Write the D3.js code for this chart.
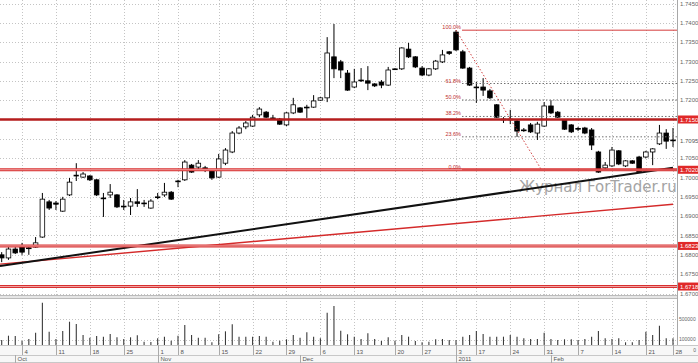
<!DOCTYPE html>
<html>
<head>
<meta charset="utf-8">
<script src="https://cdn.jsdelivr.net/npm/d3@7"></script>
<style>
body { margin: 0; background: #fff; }
svg { display: block; font-family: "Liberation Sans", Arial, sans-serif; }
</style>
</head>
<body>
<svg width="698" height="363"></svg>
<script>
"use strict"

// daily candles, Sep 29 2010 .. Feb 2011
var opens = [
    1.6800, 1.6792, 1.6815, 1.6823, 1.6818, 1.6820, 1.6846, 1.6937, 1.6934, 1.6913,
    1.6955, 1.7004, 1.7001, 1.7004, 1.6994, 1.6947, 1.6955, 1.6955, 1.6926, 1.6926,
    1.6937, 1.6934, 1.6921, 1.6949, 1.6955, 1.6962, 1.6990, 1.6994, 1.7032, 1.7027,
    1.7025, 1.7019, 1.7001, 1.7037, 1.7066, 1.7115, 1.7131, 1.7133, 1.7162, 1.7169,
    1.7154, 1.7151, 1.7136, 1.7167, 1.7180, 1.7180, 1.7182, 1.7200, 1.7206, 1.7312,
    1.7299, 1.7270, 1.7234, 1.7252, 1.7250, 1.7242, 1.7247, 1.7239, 1.7280, 1.7281,
    1.7332, 1.7312, 1.7283, 1.7265, 1.7281, 1.7299, 1.7325, 1.7376, 1.7325, 1.7283,
    1.7234, 1.7234, 1.7224, 1.7188, 1.7151, 1.7150, 1.7146, 1.7123, 1.7136, 1.7115,
    1.7133, 1.7185, 1.7169, 1.7149, 1.7136, 1.7127, 1.7128, 1.7123, 1.7066, 1.7025,
    1.7030, 1.7069, 1.7030, 1.7043, 1.7053, 1.7053, 1.7066, 1.7087, 1.7115, 1.7097
];
var highs = [
    1.6807, 1.6820, 1.6820, 1.6831, 1.6823, 1.6846, 1.6960, 1.6942, 1.6939, 1.6950,
    1.6999, 1.7037, 1.7014, 1.7006, 1.6996, 1.6960, 1.6983, 1.6957, 1.6942, 1.6947,
    1.6970, 1.6942, 1.6944, 1.6960, 1.6986, 1.6965, 1.6994, 1.7045, 1.7035, 1.7045,
    1.7030, 1.7022, 1.7061, 1.7076, 1.7120, 1.7133, 1.7146, 1.7162, 1.7182, 1.7172,
    1.7162, 1.7154, 1.7169, 1.7206, 1.7182, 1.7188, 1.7213, 1.7208, 1.7363, 1.7397,
    1.7304, 1.7278, 1.7281, 1.7283, 1.7288, 1.7244, 1.7252, 1.7286, 1.7283, 1.7337,
    1.7348, 1.7314, 1.7288, 1.7283, 1.7304, 1.7330, 1.7327, 1.7381, 1.7330, 1.7286,
    1.7247, 1.7257, 1.7229, 1.7190, 1.7156, 1.7175, 1.7149, 1.7128, 1.7141, 1.7144,
    1.7195, 1.7200, 1.7172, 1.7151, 1.7138, 1.7131, 1.7131, 1.7128, 1.7069, 1.7040,
    1.7079, 1.7071, 1.7045, 1.7045, 1.7056, 1.7069, 1.7076, 1.7136, 1.7125, 1.7128
];
var lows = [
    1.6781, 1.6787, 1.6802, 1.6800, 1.6800, 1.6818, 1.6844, 1.6916, 1.6916, 1.6911,
    1.6952, 1.6991, 1.6999, 1.6991, 1.6952, 1.6898, 1.6947, 1.6921, 1.6916, 1.6903,
    1.6924, 1.6924, 1.6919, 1.6944, 1.6950, 1.6942, 1.6975, 1.6991, 1.7012, 1.7019,
    1.7014, 1.6994, 1.6999, 1.7032, 1.7063, 1.7112, 1.7125, 1.7131, 1.7156, 1.7154,
    1.7149, 1.7136, 1.7133, 1.7164, 1.7167, 1.7154, 1.7180, 1.7198, 1.7195, 1.7257,
    1.7257, 1.7224, 1.7231, 1.7247, 1.7226, 1.7234, 1.7231, 1.7237, 1.7278, 1.7278,
    1.7309, 1.7283, 1.7262, 1.7262, 1.7278, 1.7296, 1.7317, 1.7327, 1.7281, 1.7237,
    1.7193, 1.7211, 1.7203, 1.7154, 1.7141, 1.7138, 1.7105, 1.7118, 1.7115, 1.7097,
    1.7131, 1.7164, 1.7154, 1.7123, 1.7115, 1.7120, 1.7112, 1.7071, 1.7012, 1.7022,
    1.7027, 1.7032, 1.7027, 1.7035, 1.7012, 1.7050, 1.7032, 1.7084, 1.7074, 1.7079
];
var closes = [
    1.6792, 1.6815, 1.6805, 1.6807, 1.6816, 1.6831, 1.6944, 1.6921, 1.6931, 1.6944,
    1.6988, 1.7006, 1.7009, 1.6994, 1.6955, 1.6946, 1.6962, 1.6924, 1.6925, 1.6937,
    1.6933, 1.6932, 1.6939, 1.6950, 1.6962, 1.6944, 1.6991, 1.7040, 1.7014, 1.7037,
    1.7023, 1.6999, 1.7048, 1.7071, 1.7115, 1.7128, 1.7141, 1.7156, 1.7177, 1.7156,
    1.7152, 1.7138, 1.7167, 1.7188, 1.7169, 1.7182, 1.7198, 1.7206, 1.7322, 1.7281,
    1.7278, 1.7226, 1.7247, 1.7251, 1.7244, 1.7237, 1.7239, 1.7278, 1.7281, 1.7335,
    1.7312, 1.7286, 1.7265, 1.7281, 1.7301, 1.7317, 1.7321, 1.7330, 1.7283, 1.7239,
    1.7233, 1.7226, 1.7206, 1.7156, 1.7150, 1.7151, 1.7120, 1.7121, 1.7118, 1.7138,
    1.7185, 1.7167, 1.7156, 1.7125, 1.7118, 1.7125, 1.7115, 1.7084, 1.7014, 1.7032,
    1.7071, 1.7035, 1.7043, 1.7037, 1.7014, 1.7066, 1.7074, 1.7115, 1.7094, 1.7095
];
var volumes = [
     96000, 179000, 173000,  77000, 115000, 237000, 813000, 256000, 115000, 269000,
    448000, 404000, 192000, 140000, 173000, 160000, 212000, 148000, 115000, 148000,
    187000,  63000,  58000, 129000, 160000,  83000, 179000, 385000, 192000, 140000,
    140000,  52000, 206000, 263000, 398000, 160000, 160000, 160000, 173000, 160000,
     63000,  83000, 110000, 192000, 140000, 244000, 160000, 129000, 621000, 750000,
    275000, 206000, 160000, 115000, 225000, 115000,  77000, 148000,  83000, 192000,
    160000,  77000,  52000,  63000, 110000, 115000,  96000,  96000, 160000, 192000,
    269000, 212000, 160000, 160000, 160000, 192000, 160000, 129000, 115000, 115000,
    237000, 115000,  96000, 110000, 110000,  96000, 115000, 160000, 269000, 129000,
    115000, 129000,  52000,  52000,  96000, 256000, 192000, 371000, 129000, 129000
];

var dayTickIdx = [3, 8, 13, 18, 23, 26, 32, 37, 42, 47, 52, 58, 62, 67, 70, 75, 80, 85, 90, 95, 99];
var dayTickLbl = ["4", "11", "18", "25", "1", "8", "15", "22", "29", "6", "13", "20", "27",
                  "3", "17", "24", "31", "7", "14", "21", "28"];
var monthIdx = [2, 23, 44, 67, 81];
var monthLbl = ["Oct", "Nov", "Dec", "2011", "Feb"];

var priceTicks = [1.6700, 1.6750, 1.6800, 1.6850, 1.6900, 1.6950, 1.7000, 1.7050,
                  1.7100, 1.7150, 1.7200, 1.7250, 1.7300, 1.7350, 1.7400, 1.7450];
var volTicks = [100000, 500000];

// horizontal support / resistance levels
var levels = [1.7150, 1.7020, 1.6823, 1.6718];
// trend lines [index, price]
var trendBlack = [[-0.25, 1.6771], [99, 1.7025]];
var trendRed = [[-0.25, 1.6776], [99, 1.6931]];
// fibonacci retracement
var fibHigh = 1.7381, fibLow = 1.7020, fibFrom = 67, fibTo = 79.6;
var fibRatios = [1, 0.618, 0.5, 0.382, 0.236, 0];
var fibLbl = ["100.0%", "61.8%", "50.0%", "38.2%", "23.6%", "0.0%"];

var W = 698, H = 363, plotR = 677, priceB = 295, volT = 298, volB = 345;

var svg = d3.select("svg");
var x = d3.scaleLinear().domain([0, 99]).range([1.7, 673]);
var y = d3.scaleLinear().domain([1.6700, 1.7450]).range([293.5, 3.5]);
var yv = d3.scaleLinear().domain([0, 500000]).range([volB, 319]);
var fmt = d3.format(".4f");
var last = closes[closes.length - 1];

svg.append("rect").attr("width", W).attr("height", H).attr("fill", "#fff");

/* grid */
var grid = svg.append("g").attr("stroke", "#c4c4c4").attr("stroke-dasharray", "1,2");
priceTicks.forEach(function(p) {
    grid.append("line").attr("x1", 0).attr("x2", plotR)
        .attr("y1", Math.round(y(p)) + 0.5).attr("y2", Math.round(y(p)) + 0.5);
});
dayTickIdx.forEach(function(i) {
    var xx = Math.round(x(i)) + 0.5;
    grid.append("line").attr("x1", xx).attr("x2", xx).attr("y1", 0).attr("y2", priceB);
    grid.append("line").attr("x1", xx).attr("x2", xx).attr("y1", volT).attr("y2", volB);
});
volTicks.forEach(function(v) {
    grid.append("line").attr("x1", 0).attr("x2", plotR)
        .attr("y1", Math.round(yv(v)) + 0.5).attr("y2", Math.round(yv(v)) + 0.5);
});

/* watermark */
svg.append("text").attr("x", 519).attr("y", 192)
    .attr("font-family", "DejaVu Sans").attr("font-size", 15)
    .attr("fill", "#a4a4a4").text("Журнал ForTrader.ru");

/* candles */
var cg = svg.append("g");
d3.range(opens.length).forEach(function(i) {
    var xx = x(i), o = opens[i], c = closes[i];
    cg.append("line").attr("x1", xx).attr("x2", xx)
        .attr("y1", y(highs[i])).attr("y2", y(lows[i]))
        .attr("stroke", "#000").attr("stroke-width", 1);
    var top = y(Math.max(o, c)), h = Math.max(0.8, Math.abs(y(o) - y(c)));
    cg.append("rect").attr("x", xx - 2.3).attr("y", top)
        .attr("width", 4.6).attr("height", h)
        .attr("fill", c >= o ? "#fff" : "#000")
        .attr("stroke", "#000").attr("stroke-width", 0.8);
});

/* trend lines */
var line = d3.line().x(function(d) { return x(d[0]); }).y(function(d) { return y(d[1]); });
svg.append("path").attr("d", line(trendRed)).attr("fill", "none")
    .attr("stroke", "#d42a2a").attr("stroke-width", 1.4);
svg.append("path").attr("d", line(trendBlack)).attr("fill", "none")
    .attr("stroke", "#111").attr("stroke-width", 2);

/* levels */
levels.forEach(function(p, k) {
    var yy = y(p);
    if (k === 0) {
        svg.append("line").attr("x1", 0).attr("x2", plotR).attr("y1", yy).attr("y2", yy)
            .attr("stroke", "#b51d1d").attr("stroke-width", 2.4);
    } else {
        svg.append("line").attr("x1", 0).attr("x2", plotR).attr("y1", yy).attr("y2", yy)
            .attr("stroke", "#d83030").attr("stroke-width", 3);
        svg.append("line").attr("x1", 0).attr("x2", plotR).attr("y1", yy).attr("y2", yy)
            .attr("stroke", "#f3b4b4").attr("stroke-width", 0.9);
    }
});

/* fibonacci */
var fg = svg.append("g");
fg.append("line")
    .attr("x1", x(fibFrom)).attr("y1", y(fibHigh))
    .attr("x2", x(fibTo)).attr("y2", y(fibLow))
    .attr("stroke", "#d04040").attr("stroke-width", 1).attr("stroke-dasharray", "1.5,2");
fibRatios.forEach(function(r, k) {
    var p = fibLow + r * (fibHigh - fibLow), yy = y(p);
    var solid = (r === 1 || r === 0);
    fg.append("line").attr("x1", x(fibFrom) + 6).attr("x2", plotR).attr("y1", yy).attr("y2", yy)
        .attr("stroke", solid ? "#d43c3c" : "#707070").attr("stroke-width", 1)
        .attr("stroke-dasharray", solid ? null : "1.5,2");
    fg.append("text").attr("x", x(fibFrom) + 5).attr("y", yy - 1)
        .attr("text-anchor", "end").attr("font-size", 5.5).attr("fill", "#c03030")
        .text(fibLbl[k]);
});

/* volume */
svg.append("rect").attr("x", 0).attr("y", priceB).attr("width", plotR).attr("height", volT - priceB)
    .attr("fill", "#e6e6e6");
svg.append("line").attr("x1", 0).attr("x2", plotR).attr("y1", priceB + 0.5).attr("y2", priceB + 0.5)
    .attr("stroke", "#bbb");
svg.append("line").attr("x1", 0).attr("x2", plotR).attr("y1", volT + 0.5).attr("y2", volT + 0.5)
    .attr("stroke", "#bbb");
var vg = svg.append("g");
volumes.forEach(function(v, i) {
    vg.append("line").attr("x1", x(i)).attr("x2", x(i))
        .attr("y1", yv(0)).attr("y2", yv(v))
        .attr("stroke", "#3a3a3a").attr("stroke-width", 1.1);
});

/* x axis area */
svg.append("rect").attr("x", 0).attr("y", volB).attr("width", W).attr("height", H - volB)
    .attr("fill", "#f7f7f7");
[volB + 0.5, 355.5, 362.5].forEach(function(yy) {
    svg.append("line").attr("x1", 0).attr("x2", W).attr("y1", yy).attr("y2", yy).attr("stroke", "#c8c8c8");
});
dayTickIdx.forEach(function(i, k) {
    var xx = Math.round(x(i)) + 0.5;
    svg.append("line").attr("x1", xx).attr("x2", xx).attr("y1", volB).attr("y2", 355)
        .attr("stroke", "#aaa");
    svg.append("text").attr("x", xx + 2).attr("y", 353.5)
        .attr("font-size", 6).attr("fill", "#555").text(dayTickLbl[k]);
});
monthIdx.forEach(function(i, k) {
    var xx = Math.round(x(i)) + 0.5;
    svg.append("line").attr("x1", xx).attr("x2", xx).attr("y1", 355).attr("y2", 363)
        .attr("stroke", "#aaa");
    svg.append("text").attr("x", xx + 2).attr("y", 361)
        .attr("font-size", 6).attr("fill", "#555").text(monthLbl[k]);
});

/* right axis */
svg.append("rect").attr("x", plotR).attr("y", 0).attr("width", W - plotR).attr("height", volB)
    .attr("fill", "#fff");
svg.append("line").attr("x1", plotR + 0.5).attr("x2", plotR + 0.5).attr("y1", 0).attr("y2", volB)
    .attr("stroke", "#a8a8a8");
priceTicks.forEach(function(p) {
    // the last-price tag covers the tick it sits on
    if (Math.abs(y(p) - y(last)) < 6) return;
    svg.append("text").attr("x", plotR + 3).attr("y", y(p) + 2)
        .attr("font-size", 6).attr("fill", "#666").text(fmt(p));
});
volTicks.forEach(function(v) {
    svg.append("text").attr("x", plotR + 2).attr("y", yv(v) + 1.5)
        .attr("font-size", 5).attr("fill", "#666").text(v);
});
svg.append("text").attr("x", W - 2).attr("y", 351.5).attr("text-anchor", "end")
    .attr("font-size", 5).attr("fill", "#666").text("0");

levels.forEach(function(p) {
    svg.append("rect").attr("x", plotR + 1).attr("y", y(p) - 4).attr("width", 20).attr("height", 8)
        .attr("fill", "#e02828");
    svg.append("text").attr("x", plotR + 3).attr("y", y(p) + 2)
        .attr("font-size", 6).attr("fill", "#fff").text(fmt(p));
});

svg.append("rect").attr("x", plotR + 1).attr("y", y(last) - 4).attr("width", 20).attr("height", 8)
    .attr("fill", "#fff");
svg.append("text").attr("x", plotR + 3).attr("y", y(last) + 2)
    .attr("font-size", 6).attr("fill", "#555").text(fmt(last));
</script>
</body>
</html>
